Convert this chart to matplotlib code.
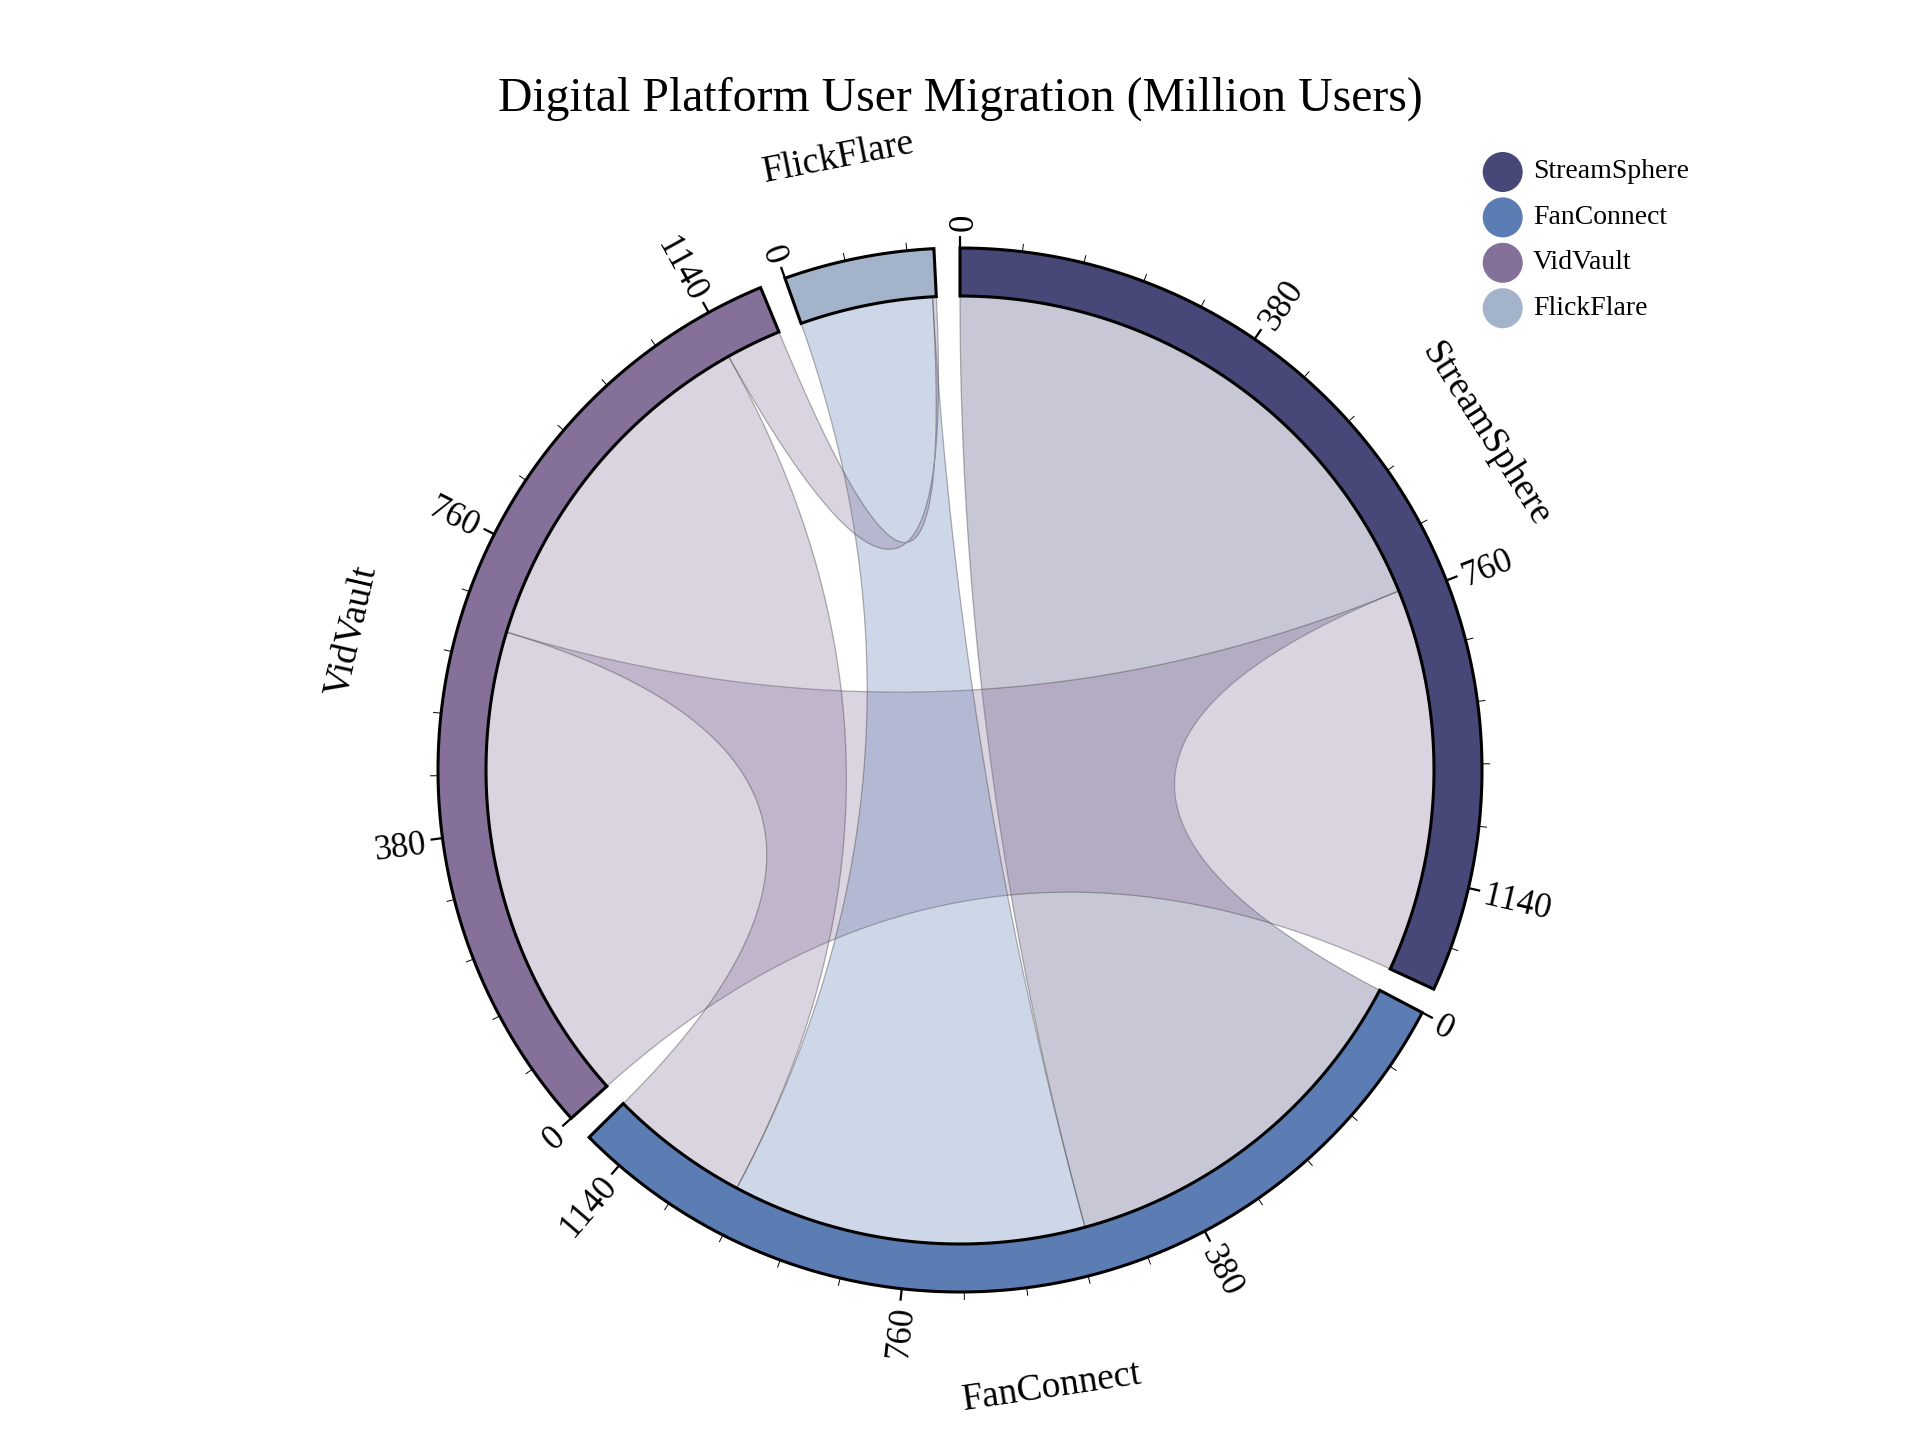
import numpy as np
import matplotlib
matplotlib.use("Agg")
import matplotlib.pyplot as plt
from matplotlib.patches import Polygon, Circle
from matplotlib.colors import to_rgb

# ---------------- data ----------------
groups = ["StreamSphere", "FanConnect", "VidVault", "FlickFlare"]
colors = ["#474878", "#5c7db3", "#857099", "#a3b4ca"]
# rows = from, columns = to (million users)
streamsphere_row = [0, 750, 520, 0]
fanconnect_row = [520, 0, 190, 480]
vidvault_row = [650, 485, 0, 75]
flickflare_row = [0, 180, 5, 0]
title = "Digital Platform User Migration (Million Users)"
tick_step = 76
label_every = 5

matrix = np.array([streamsphere_row, fanconnect_row, vidvault_row, flickflare_row], float)

# ---------------- layout ----------------
W, H = 1920, 1440
fig = plt.figure(figsize=(9.6, 7.2), dpi=200)
ax = fig.add_axes([0, 0, 1, 1])
ax.set_xlim(0, W)
ax.set_ylim(H, 0)
ax.set_aspect("equal")
ax.axis("off")

FONT = "Liberation Serif"
cx, cy = 960.0, 770.0
r_in, r_out = 474.0, 522.0
pad = 0.05  # radians between groups

n = len(groups)
totals = matrix.sum(axis=1)
k = (2 * np.pi - n * pad) / totals.sum()

starts, ends, sub = [], [], {}
a = 0.0
for i in range(n):
    starts.append(a)
    order = np.argsort(-matrix[i], kind="stable")
    for j in order:
        sub[(i, j)] = (a, a + matrix[i, j] * k)
        a += matrix[i, j] * k
    ends.append(a)
    a += pad


def pt(theta, r):
    return np.array([cx + r * np.sin(theta), cy - r * np.cos(theta)])


def arcpts(t0, t1, r, num=120):
    t = np.linspace(t0, t1, num)
    return np.column_stack([cx + r * np.sin(t), cy - r * np.cos(t)])


def quad(p0, p2, num=160):
    t = np.linspace(0, 1, num)[:, None]
    c = np.array([cx, cy])
    return (1 - t) ** 2 * p0 + 2 * (1 - t) * t * c + t ** 2 * p2


# ---------------- ribbons ----------------
chords = []
for i in range(n):
    for j in range(i, n):
        if matrix[i, j] or matrix[j, i]:
            s, t = (i, j), (j, i)
            if matrix[i, j] < matrix[j, i]:
                s, t = t, s
            chords.append((s, t))

for s, t in chords:
    s0, s1 = sub[s]
    t0, t1 = sub[t]
    pts = np.vstack([
        arcpts(s0, s1, r_in),
        quad(pt(s1, r_in), pt(t0, r_in)),
        arcpts(t0, t1, r_in),
        quad(pt(t1, r_in), pt(s0, r_in)),
    ])
    col = colors[s[0]]
    ax.add_patch(Polygon(pts, closed=True, facecolor=(*to_rgb(col), 0.3),
                         edgecolor=(0.25, 0.25, 0.25, 0.4), linewidth=0.45, zorder=2))

# ---------------- group arcs ----------------
for i in range(n):
    outer = arcpts(starts[i], ends[i], r_out)
    inner = arcpts(ends[i], starts[i], r_in)
    ax.add_patch(Polygon(np.vstack([outer, inner]), closed=True, facecolor=colors[i],
                         edgecolor="black", linewidth=1.1, zorder=3, joinstyle="miter"))

# ---------------- ticks ----------------
for i in range(n):
    for v in range(0, int(np.ceil(totals[i])), tick_step):
        if v >= totals[i]:
            break
        th = starts[i] + v * k
        major = (v % (tick_step * label_every) == 0)
        L = 12 if major else 8
        p0, p1 = pt(th, r_out), pt(th, r_out + L)
        ax.plot([p0[0], p1[0]], [p0[1], p1[1]], color="black",
                lw=0.8 if major else 0.35, zorder=4, solid_capstyle="butt")
        if major:
            deg = np.degrees(th) % 360
            lp = pt(th, r_out + 17)
            if deg <= 180:
                rot, ha = 90 - deg, "left"
            else:
                rot, ha = 270 - deg, "right"
            ax.text(lp[0], lp[1], f"{v}", rotation=rot, rotation_mode="anchor",
                    ha=ha, va="center_baseline", fontsize=12.5, family=FONT, zorder=5)

# ---------------- group labels ----------------
for i in range(n):
    mid = (starts[i] + ends[i]) / 2
    deg = np.degrees(mid) % 360
    lp = pt(mid, 624)
    rot = 180 - deg if 90 < deg < 270 else -deg
    ax.text(lp[0], lp[1], groups[i], rotation=rot, rotation_mode="anchor",
            ha="center", va="center", fontsize=13.5, family=FONT, zorder=5)

# ---------------- title ----------------
ax.text(960, 99, title, ha="center", va="center", fontsize=17.2, family=FONT)

# ---------------- legend ----------------
for i in range(n):
    y = 172 + i * 45.4
    ax.add_patch(Circle((1502.7, y), 20, facecolor=colors[i], edgecolor="none", zorder=5))
    ax.text(1533, y, groups[i], ha="left", va="center", fontsize=10, family=FONT, zorder=5)

fig.savefig("out.png", dpi=200)
